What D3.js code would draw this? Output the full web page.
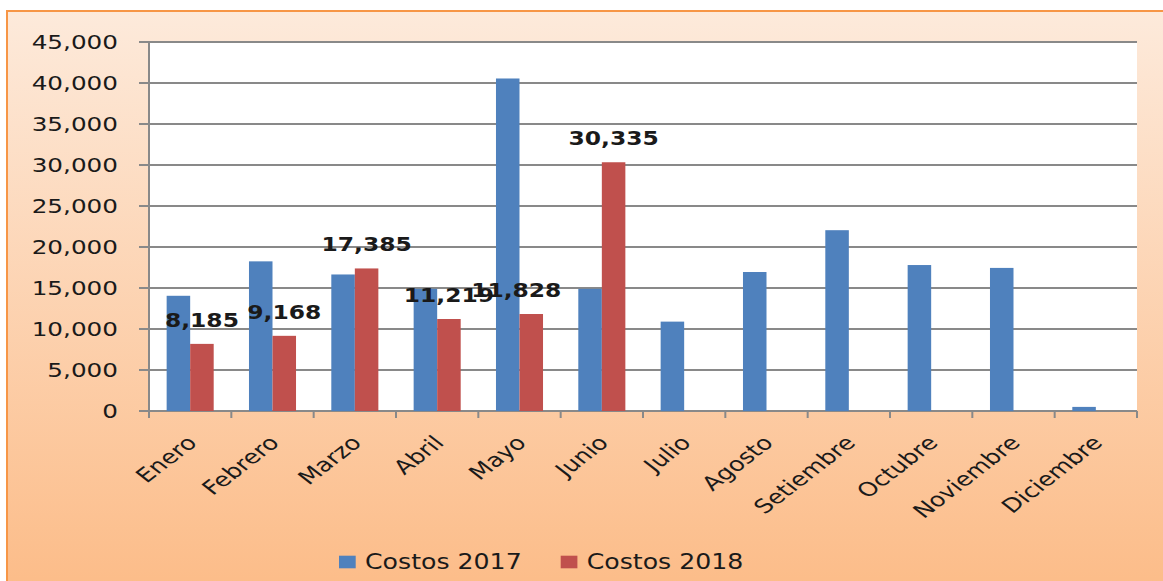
<!DOCTYPE html>
<html>
<head>
<meta charset="utf-8">
<script src="https://cdn.jsdelivr.net/npm/d3@7"></script>
<style>
  html, body { margin: 0; padding: 0; background: #ffffff; }
  svg { display: block; }
  text { font-family: "DejaVu Sans", Verdana, sans-serif; fill: #1a1a1a; }
</style>
</head>
<body>
<svg id="chart" width="1163" height="581"></svg>
<script>
// ---- data ----
const months = ["Enero", "Febrero", "Marzo", "Abril", "Mayo", "Junio", "Julio", "Agosto", "Setiembre", "Octubre", "Noviembre", "Diciembre"];
const costos2017 = [14050, 18250, 16650, 14900, 40550, 14900, 10900, 16950, 22050, 17800, 17450, 500];
const costos2018 = [8185, 9168, 17385, 11219, 11828, 30335];
const seriesNames = ["Costos 2017", "Costos 2018"];
const yTickValues = [0, 5000, 10000, 15000, 20000, 25000, 30000, 35000, 40000, 45000];

// ---- layout ----
const W = 1163, H = 581;
const plot = { left: 149, right: 1137, top: 42, bottom: 411 };
const colors = ["#4f81bd", "#c0504d"];
const SX = 1.3; // horizontal stretch of the text in the picture

const svg = d3.select("#chart");
const defs = svg.append("defs");
const grad = defs.append("linearGradient").attr("id", "bg").attr("x1", 0).attr("y1", 0).attr("x2", 0).attr("y2", 1);
grad.append("stop").attr("offset", "0%").attr("stop-color", "#fdeadb");
grad.append("stop").attr("offset", "100%").attr("stop-color", "#fcbc88");

// chart area background with orange border
svg.append("rect").attr("x", 7).attr("y", 11).attr("width", W).attr("height", H)
  .attr("fill", "url(#bg)").attr("stroke", "#f79646").attr("stroke-width", 2);

// scales
const x0 = d3.scaleBand().domain(months).range([plot.left, plot.right]).padding(0);
const step = x0.bandwidth();
const gap = 1.5; // gap width 150%
const barW = step / (2 + gap);
const x1 = d3.scaleBand().domain(seriesNames).range([0, 2 * barW]).padding(0);
const y = d3.scaleLinear().domain([0, 45000]).range([plot.bottom, plot.top]);

// plot background
svg.append("rect").attr("x", plot.left).attr("y", plot.top)
  .attr("width", plot.right - plot.left).attr("height", plot.bottom - plot.top).attr("fill", "#ffffff");

// gridlines + y tick marks
svg.append("g").selectAll("line").data(yTickValues).join("line")
  .attr("x1", plot.left - 10).attr("x2", plot.right)
  .attr("y1", d => y(d)).attr("y2", d => y(d))
  .attr("stroke", "#898989").attr("stroke-width", 2);

// y labels
svg.append("g").selectAll("text").data(yTickValues).join("text")
  .attr("transform", d => `translate(118,${y(d) + 7}) scale(${SX},1)`)
  .attr("text-anchor", "end")
  .attr("font-size", 19)
  .text(d => d3.format(",")(d));

// bars
const seriesData = [costos2017, costos2018];
const groups = svg.append("g");
seriesData.forEach((vals, si) => {
  groups.append("g").selectAll("rect").data(vals.map((v, i) => ({ m: months[i], v }))).join("rect")
    .attr("x", d => x0(d.m) + (step - 2 * barW) / 2 + x1(seriesNames[si]))
    .attr("y", d => y(d.v))
    .attr("width", barW)
    .attr("height", d => y(0) - y(d.v))
    .attr("fill", colors[si]);
});

// y axis line
svg.append("line").attr("x1", plot.left).attr("x2", plot.left)
  .attr("y1", plot.top).attr("y2", plot.bottom + 7)
  .attr("stroke", "#898989").attr("stroke-width", 2);
// x axis tick marks at category boundaries
const boundaries = months.map(m => x0(m)).concat([x0(months[months.length - 1]) + step]);
svg.append("g").selectAll("line").data(boundaries.slice(1)).join("line")
  .attr("x1", d => d).attr("x2", d => d)
  .attr("y1", plot.bottom).attr("y2", plot.bottom + 7)
  .attr("stroke", "#898989").attr("stroke-width", 2);

// x labels rotated
svg.append("g").selectAll("text").data(months).join("text")
  .attr("transform", m => `translate(${x0(m) + step / 2 + 8},${plot.bottom + 33}) scale(${SX},1) rotate(-45)`)
  .attr("text-anchor", "end")
  .attr("font-size", 19.5)
  .text(m => m);

// data labels for 2018
const labelShift = { "Mayo": -15 };
svg.append("g").selectAll("text").data(costos2018.map((v, i) => ({ m: months[i], v }))).join("text")
  .attr("transform", d => `translate(${x0(d.m) + (step - 2 * barW) / 2 + x1(seriesNames[1]) + barW / 2 + (labelShift[d.m] || 0)},${y(d.v) - 17}) scale(1.2,1)`)
  .attr("text-anchor", "middle")
  .attr("font-size", 19.5)
  .attr("font-weight", "bold")
  .attr("fill", "#000")
  .text(d => d3.format(",")(d.v));

// legend
const legendX = [339, 560.7];
const legend = svg.append("g");
seriesNames.forEach((name, i) => {
  legend.append("rect").attr("x", legendX[i]).attr("y", 555.7).attr("width", 16.7).attr("height", 12.6).attr("fill", colors[i]);
  legend.append("text")
    .attr("transform", `translate(${legendX[i] + 26},569) scale(1.2,1)`)
    .attr("font-size", 21)
    .text(name);
});
</script>
</body>
</html>
